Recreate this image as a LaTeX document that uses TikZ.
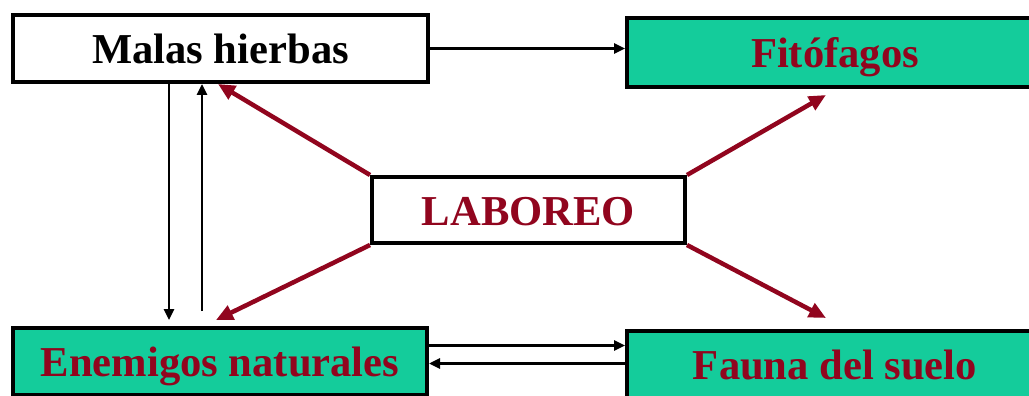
\documentclass[tikz,border=0pt]{standalone}
\usepackage{fontspec}
\setmainfont{Liberation Serif}
\usetikzlibrary{arrows.meta}
\definecolor{boxgreen}{RGB}{20,204,155}
\definecolor{darkred}{RGB}{145,5,30}

\begin{document}
\begin{tikzpicture}[x=1pt,y=-1pt]

\tikzstyle{box} = [draw=black, line width=4pt, inner sep=0pt, text height=30pt, text depth=0pt, font=\fontsize{42.6}{48}\selectfont\bfseries]
\tikzstyle{whitebox} = [box, fill=white, text=black]
\tikzstyle{greenbox} = [box, fill=boxgreen, text=darkred]
\tikzstyle{blackarrow} = [line width=2.6pt, -{Triangle[length=11pt,width=10pt]}]
\tikzstyle{redarrow} = [draw=darkred, line width=4.5pt, -{Triangle[length=17pt,width=15pt]}]

\useasboundingbox (0,0) rectangle (1029,396);
\clip (0,0) rectangle (1029,396);
\fill[white] (0,0) rectangle (1029,396);

\node[at={(220.5,48.5)}, whitebox, minimum width=415pt, minimum height=67pt] (malas) {Malas hierbas};
\node[at={(835,52.5)}, greenbox, minimum width=416pt, minimum height=69pt] (fito) {Fitófagos};
\node[at={(220,361.5)}, greenbox, minimum width=414pt, minimum height=67pt] (enem) {Enemigos naturales};
\node[at={(835,364.5)}, greenbox, minimum width=416pt, minimum height=67pt] (fauna) {Fauna del suelo};
\node[at={(528.5,210)}, whitebox, text=darkred, minimum width=313pt, minimum height=66pt] (laboreo) {LABOREO};

% black links
\draw[blackarrow] (malas.east) -- (malas.east -| fito.west);
\draw[blackarrow] ([xshift=158pt]malas.south west) -- ([xshift=158pt,yshift=6pt]enem.north west);
\draw[blackarrow] ([xshift=191pt,yshift=15pt]enem.north west) -- ([xshift=191pt]malas.south west);
\draw[blackarrow] ([yshift=16pt]enem.east) -- ([yshift=16pt]enem.east -| fauna.west);
\draw[blackarrow] ([yshift=-2pt]enem.east -| fauna.west) -- ([yshift=-2pt]enem.east);

% laboreo links
\draw[redarrow] (laboreo.north west) -- ([xshift=207pt]malas.south west);
\draw[redarrow] (laboreo.south west) -- ([xshift=205pt,yshift=6pt]enem.north west);
\draw[redarrow] (laboreo.north east) -- ([xshift=201pt,yshift=-6pt]fito.south west);
\draw[redarrow] (laboreo.south east) -- ([xshift=201pt,yshift=11pt]fauna.north west);

\end{tikzpicture}
\end{document}
